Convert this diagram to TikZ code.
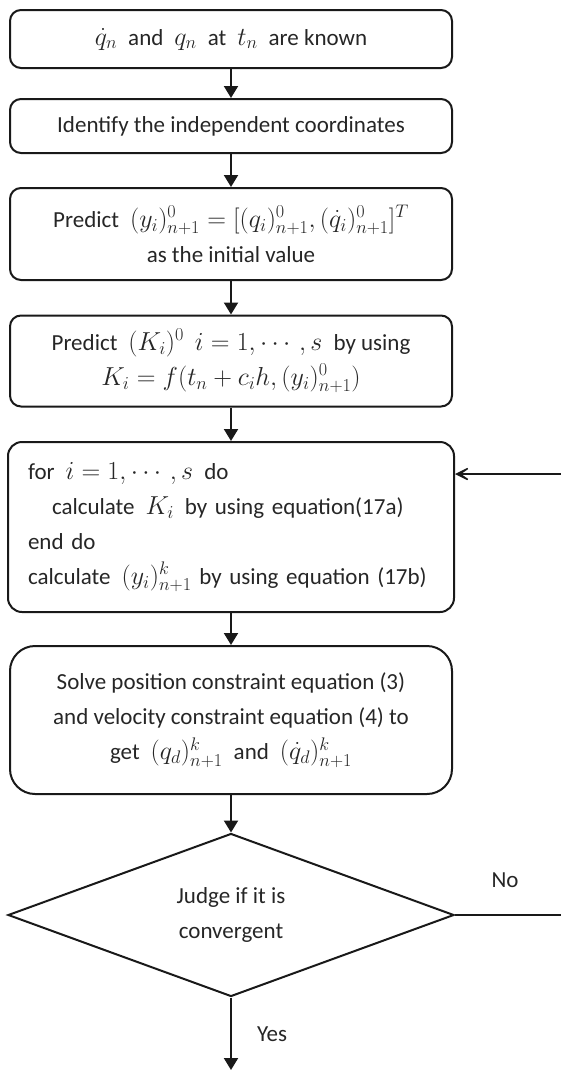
\RequirePackage{fix-cm}
\documentclass[tikz,border=0pt]{standalone}
\usepackage{amsmath}
\usepackage{fontspec}
\setmainfont{Carlito}
\usetikzlibrary{shapes.geometric,arrows.meta}
\newcommand{\mth}[1]{{\fontsize{26}{35}\selectfont$#1$}}
\newcommand{\gap}{\hspace{11pt}}
\begin{document}
\begin{tikzpicture}[x=1pt,y=-1pt,
  txt/.style={font=\fontsize{23}{35}\selectfont, text=black!85},
  stepbox/.style={txt, draw=black!90, line width=2pt, rounded corners=11pt, minimum width=442pt, align=center, inner sep=0pt},
  decide/.style={txt, draw=black!90, line width=2pt, diamond, aspect=2.74, minimum width=446pt, minimum height=163pt, inner sep=0pt, align=center},
  flow/.style={draw=black!90, line width=2pt, -{Triangle[length=12pt,width=14pt]}},
  back/.style={draw=black!90, line width=2pt, -{Stealth[length=22pt,width=22pt,inset=16pt]}},
  plain/.style={draw=black!90, line width=2pt}
]
\useasboundingbox (0,0) rectangle (561,1071);
\node[stepbox, minimum height=58pt] (b1) at (231,39) {\mth{\dot q_n}\gap and\gap\mth{q_n}\gap at\gap\mth{t_n}\gap are known};
\node[stepbox, minimum height=54pt] (b2) at (231,126) {Identify the independent coordinates};
\node[stepbox, minimum height=92pt] (b3) at (231,234) {Predict\gap\mth{(y_i)^0_{n+1}=[(q_i)^0_{n+1},(\dot q_i)^0_{n+1}]^T}\\as the initial value};
\node[stepbox, minimum height=91pt] (b4) at (231,361) {Predict\gap\mth{(K_i)^0}\gap\mth{i=1,\cdots,s}\gap by using\\\mth{K_i=f(t_n+c_ih,(y_i)^0_{n+1})}};
\node[stepbox, minimum height=170pt, minimum width=446pt, rounded corners=14pt, align=left, text width=406pt, inner xsep=20pt] (b5) at (231,527)
  {for\gap\mth{i=1,\cdots,s}\gap do\\\hspace*{24pt}calculate\gap\mth{K_i}\gap by using equation(17a)\\end do\\calculate\gap\mth{(y_i)^k_{n+1}} by using equation (17b)};
\node[stepbox, minimum height=148pt, rounded corners=25pt] (b6) at (231,720) {Solve position constraint equation (3)\\and velocity constraint equation (4) to\\get\gap\mth{(q_d)^k_{n+1}}\gap and\gap\mth{(\dot q_d)^k_{n+1}}};
\node[decide] (d) at (231,915) {\raisebox{-6pt}{\parbox{150pt}{\centering Judge if it is\\convergent}}};
\coordinate (e1) at (561,474);
\coordinate (e2) at (561,915);
\coordinate (end) at (231,1070);
\draw[flow] (b1) -- (b2);
\draw[flow] (b2) -- (b3);
\draw[flow] (b3) -- (b4);
\draw[flow] (b4) -- (b5);
\draw[flow] (b5) -- (b6);
\draw[flow] (b6) -- (d);
\draw[flow] (d) -- (end);
\draw[plain] (d.east) -- (e2);
\draw[back] (e1) -- (e1 -| b5.east);
\node[txt, anchor=center] (no) at (505,880) {No};
\node[txt, anchor=center] (yes) at (272,1034) {Yes};
\end{tikzpicture}
\end{document}
